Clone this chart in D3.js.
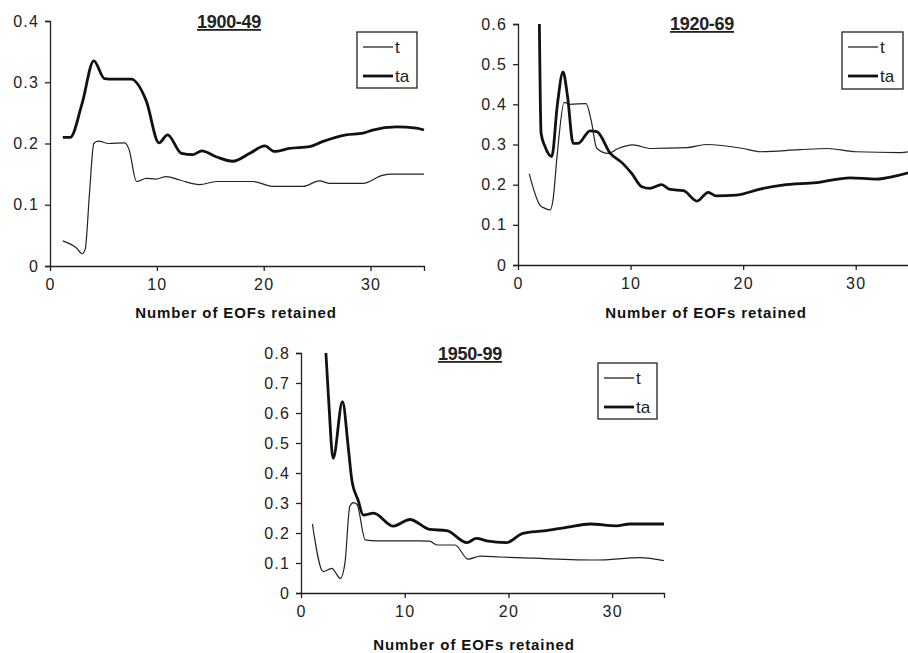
<!DOCTYPE html>
<html>
<head>
<meta charset="utf-8">
<script src="https://cdn.jsdelivr.net/npm/d3@7"></script>
<style>
  body { margin: 0; background: #fff; }
  svg { display: block; font-family: "Liberation Sans", Arial, sans-serif; }
  .tick text { font-size: 16px; letter-spacing: 1.2px; fill: #222; }
  .domain, .tick line { stroke: #222; stroke-width: 1.3; }
</style>
</head>
<body>
<svg id="chart" width="908" height="653"></svg>
<script>
// values, [EOFs retained, value]
const xTicks = [0, 10, 20, 30];
const titles = ["1900-49", "1920-69", "1950-99"];
const xLabel = "Number of EOFs retained";
const legendNames = ["t", "ta"];

const t1900 = [[1.2,0.041],[2.5,0.029],[3.0,0.02],[3.3,0.028],[3.7,0.12],[4.1,0.2],[4.5,0.204],[5.5,0.2],[7.0,0.201],[7.4,0.19],[8.1,0.138],[9.0,0.143],[9.9,0.142],[10.9,0.146],[12.2,0.14],[14.0,0.133],[15.6,0.138],[19.0,0.138],[20.8,0.13],[23.7,0.13],[25.2,0.139],[26.2,0.135],[29.3,0.135],[31.1,0.148],[32.0,0.15],[35,0.15]];
const ta1900 = [[1.2,0.21],[1.9,0.21],[3.0,0.265],[4.1,0.335],[5.1,0.306],[6.0,0.305],[7.6,0.305],[9.0,0.27],[10.2,0.201],[11.0,0.214],[12.3,0.184],[13.4,0.182],[14.2,0.188],[15.6,0.178],[17.1,0.171],[18.7,0.184],[20.1,0.196],[21.0,0.187],[22.4,0.192],[24.3,0.195],[25.5,0.203],[27.7,0.214],[29.3,0.217],[30.2,0.222],[32.4,0.227],[34.3,0.225],[35,0.222]];

const t1920 = [[1.0,0.227],[1.95,0.149],[2.4,0.141],[2.85,0.137],[3.1,0.16],[3.5,0.28],[4.1,0.405],[4.6,0.4],[6.05,0.402],[6.5,0.36],[7.0,0.29],[8.0,0.278],[8.9,0.29],[10.2,0.299],[11.8,0.29],[15.0,0.292],[16.7,0.3],[20.0,0.29],[21.5,0.282],[25.0,0.287],[27.5,0.29],[30.0,0.282],[34.0,0.28],[35,0.283]];
const ta1920 = [[1.9,0.6],[2.05,0.328],[2.4,0.295],[3.0,0.27],[3.5,0.4],[4.0,0.481],[4.4,0.42],[4.9,0.303],[5.35,0.303],[6.4,0.334],[7.0,0.332],[8.2,0.278],[9.3,0.253],[10.1,0.228],[11.0,0.195],[11.7,0.191],[12.75,0.2],[13.5,0.188],[14.7,0.185],[15.9,0.159],[16.9,0.181],[17.6,0.172],[19.4,0.174],[21.5,0.189],[23.5,0.199],[26.5,0.205],[29.5,0.217],[31.8,0.214],[33.6,0.222],[35,0.232]];

const t1950 = [[1.1,0.23],[2.15,0.071],[2.96,0.082],[3.8,0.049],[4.25,0.104],[4.7,0.288],[5.05,0.301],[5.4,0.295],[6.2,0.177],[7.3,0.174],[11.2,0.174],[12.4,0.173],[13.1,0.16],[14.85,0.16],[16.1,0.113],[17.3,0.123],[19.2,0.12],[22.4,0.116],[28.5,0.11],[32.7,0.118],[35,0.108]];
const ta1950 = [[2.4,0.8],[2.65,0.654],[3.1,0.449],[4.0,0.638],[4.55,0.488],[4.9,0.377],[5.5,0.31],[6.0,0.26],[7.0,0.266],[8.9,0.223],[10.5,0.245],[12.4,0.212],[14.05,0.208],[16.0,0.168],[16.9,0.182],[17.9,0.174],[19.8,0.168],[21.4,0.199],[23.4,0.207],[25.6,0.219],[27.9,0.23],[30.4,0.224],[31.7,0.23],[35,0.23]];

// panel layout
const panels = [
  { title: titles[0], t: t1900, ta: ta1900, yMax: 0.4, left: 50, right: 424, top: 21, bottom: 266,
    titleX: 229, titleY: 28, labelX: 236, labelY: 318, legend: { x: 357, y: 32, w: 60, h: 56 } },
  { title: titles[1], t: t1920, ta: ta1920, yMax: 0.6, left: 518, right: 912, top: 24, bottom: 265,
    titleX: 702, titleY: 30, labelX: 706, labelY: 318, legend: { x: 842, y: 32, w: 61, h: 57 } },
  { title: titles[2], t: t1950, ta: ta1950, yMax: 0.8, left: 301, right: 664, top: 353, bottom: 593,
    titleX: 470, titleY: 360, labelX: 474, labelY: 650, legend: { x: 598, y: 363, w: 59, h: 56 } },
];

const svg = d3.select("#chart");

panels.forEach(p => {
  const x = d3.scaleLinear().domain([0, 35]).range([p.left, p.right]);
  const y = d3.scaleLinear().domain([0, p.yMax]).range([p.bottom, p.top]);
  const g = svg.append("g");

  g.append("g")
    .attr("transform", `translate(0,${p.bottom})`)
    .call(d3.axisBottom(x).tickValues(xTicks).tickSizeOuter(0).tickSize(5).tickPadding(8))
    .call(a => a.selectAll(".tick line").filter(d => d === 0).remove());

  g.append("g")
    .attr("transform", `translate(${p.left},0)`)
    .call(d3.axisLeft(y).tickValues(d3.range(0, p.yMax + 0.001, 0.1)).tickSizeOuter(0).tickSize(5).tickPadding(6)
      .tickFormat(d => d === 0 ? "0" : d3.format(".1f")(d)));

  const line = d3.line().x(d => x(d[0])).y(d => y(d[1])).curve(d3.curveMonotoneX);

  g.append("path").datum(p.t)
    .attr("fill", "none").attr("stroke", "#222").attr("stroke-width", 1.2).attr("d", line);
  g.append("path").datum(p.ta)
    .attr("fill", "none").attr("stroke", "#111").attr("stroke-width", 2.8)
    .attr("stroke-linejoin", "round").attr("d", line);

  g.append("text")
    .attr("x", p.titleX).attr("y", p.titleY)
    .attr("text-anchor", "middle")
    .style("font-size", "18px").style("font-weight", "bold")
    .style("text-decoration", "underline").style("letter-spacing", "-0.3px")
    .attr("fill", "#222")
    .text(p.title);

  g.append("text")
    .attr("x", p.labelX).attr("y", p.labelY)
    .attr("text-anchor", "middle")
    .style("font-size", "15px").style("font-weight", "bold").style("letter-spacing", "0.9px")
    .attr("fill", "#111")
    .text(xLabel);

  // legend
  const L = p.legend;
  const lg = g.append("g").attr("transform", `translate(${L.x},${L.y})`);
  lg.append("rect").attr("width", L.w).attr("height", L.h)
    .attr("fill", "#fff").attr("stroke", "#222").attr("stroke-width", 1.3);
  legendNames.forEach((name, i) => {
    const ly = i === 0 ? 15 : 44;
    lg.append("line").attr("x1", 6).attr("x2", 36).attr("y1", ly).attr("y2", ly)
      .attr("stroke", "#111").attr("stroke-width", i === 0 ? 1.2 : 2.8);
    lg.append("text").attr("x", 38).attr("y", ly + 6)
      .style("font-size", "17px").attr("fill", "#222")
      .text(name);
  });
});
</script>
</body>
</html>
